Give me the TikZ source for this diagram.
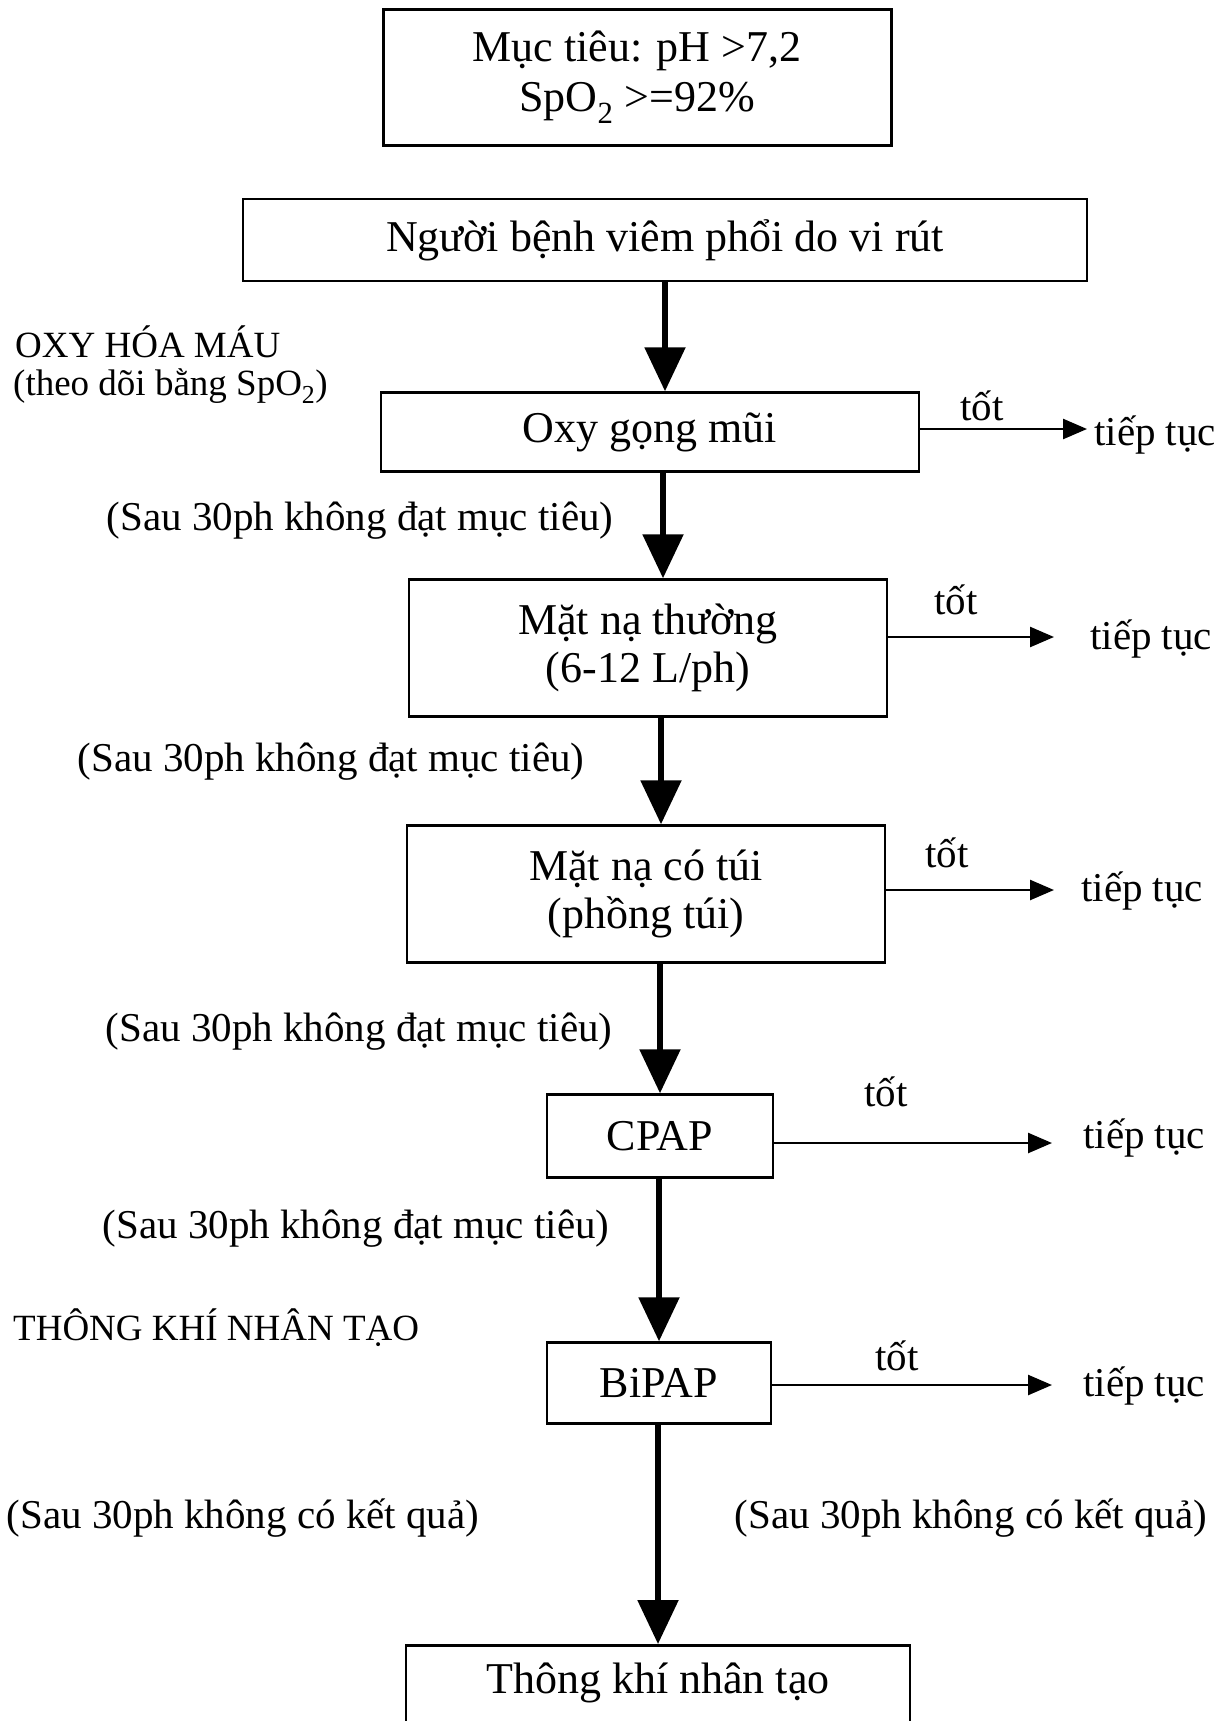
\documentclass[tikz,border=0pt]{standalone}
\usepackage{fontspec}
\setmainfont{Liberation Serif}
\usetikzlibrary{arrows.meta}
\begin{document}
\begin{tikzpicture}[x=1pt,y=-1pt,
  box/.style={draw,line width=2.5pt,inner sep=0pt,align=center,font=\fontsize{44}{48}\selectfont},
  lbl/.style={inner sep=0pt,font=\fontsize{41}{46}\selectfont},
  sec/.style={inner sep=0pt,anchor=west,font=\fontsize{37}{44}\selectfont},
  mainarrow/.style={line width=5.5pt,-{Triangle[length=44pt,width=40pt]}},
  sidearrow/.style={line width=2.5pt,-{Triangle[length=24pt,width=20pt]}},
]
\useasboundingbox (0,0) rectangle (1226,1721);
\clip (0,0) rectangle (1226,1721);

% boxes
\node[box,line width=3pt,minimum width=508pt,minimum height=136pt] (goal) at (637,77)
  {Mục tiêu: pH >7,2\\[2pt]SpO\textsubscript{2} >=92\%};
\node[box,minimum width=844pt,minimum height=82pt] (patient) at (665,240) {Người bệnh viêm phổi do vi rút};
\node[box,minimum width=538pt,minimum height=79pt] (oxy) at (650,432) {Oxy gọng mũi};
\node[box,minimum width=478pt,minimum height=137pt] (mask1) at (648,648) {Mặt nạ thường\\(6-12 L/ph)};
\node[box,minimum width=478pt,minimum height=137pt] (mask2) at (646,894) {Mặt nạ có túi\\(phồng túi)};
\node[box,minimum width=226pt,minimum height=83pt] (cpap) at (660,1136) {CPAP};
\node[box,minimum width=224pt,minimum height=81pt] (bipap) at (659,1383) {BiPAP};
\node[box,minimum width=504pt,text height=48pt,text depth=60pt,anchor=north] (vent) at (658,1644) {Thông khí nhân tạo};

% section labels
\node[sec] (s1) at (15,342) {OXY HÓA MÁU};
\node[sec] (s2) at (13,386) {(theo dõi bằng SpO\textsubscript{2})};
\node[sec] (s3) at (13,1328) {THÔNG KHÍ NHÂN TẠO};

% failure labels
\node[lbl] (f1) at (360,521) {(Sau 30ph không đạt mục tiêu)};
\node[lbl] (f2) at (331,762) {(Sau 30ph không đạt mục tiêu)};
\node[lbl] (f3) at (359,1032) {(Sau 30ph không đạt mục tiêu)};
\node[lbl] (f4) at (356,1229) {(Sau 30ph không đạt mục tiêu)};
\node[lbl] (r1) at (243,1518) {(Sau 30ph không có kết quả)};
\node[lbl] (r2) at (971,1518) {(Sau 30ph không có kết quả)};

% good labels
\node[lbl] (g1) at (982,406) {tốt};
\node[lbl] (g2) at (956,600) {tốt};
\node[lbl] (g3) at (947,853) {tốt};
\node[lbl] (g4) at (886,1092) {tốt};
\node[lbl] (g5) at (897,1356) {tốt};

% continue labels
\node[lbl,anchor=west] (c1) at (1094,435) {tiếp tục};
\node[lbl,anchor=west] (c2) at (1090,639) {tiếp tục};
\node[lbl,anchor=west] (c3) at (1081,891) {tiếp tục};
\node[lbl,anchor=west] (c4) at (1083,1138) {tiếp tục};
\node[lbl,anchor=west] (c5) at (1083,1386) {tiếp tục};

% arrow columns and ends
\coordinate (x1) at (665,0);
\coordinate (x2) at (663,0);
\coordinate (x3) at (661,0);
\coordinate (x4) at (660,0);
\coordinate (x5) at (659,0);
\coordinate (x6) at (658,0);
\coordinate (e1) at (1087,429);
\coordinate (e2) at (1054,637);
\coordinate (e3) at (1054,890);
\coordinate (e4) at (1052,1143);
\coordinate (e5) at (1052,1385);

% main arrows
\draw[mainarrow] (patient.south -| x1) -- (oxy.north -| x1);
\draw[mainarrow] (oxy.south -| x2) -- (mask1.north -| x2);
\draw[mainarrow] (mask1.south -| x3) -- (mask2.north -| x3);
\draw[mainarrow] (mask2.south -| x4) -- (cpap.north -| x4);
\draw[mainarrow] (cpap.south -| x5) -- (bipap.north -| x5);
\draw[mainarrow] (bipap.south -| x6) -- (vent.north -| x6);

% side arrows
\draw[sidearrow] (oxy.east |- e1) -- (e1);
\draw[sidearrow] (mask1.east |- e2) -- (e2);
\draw[sidearrow] (mask2.east |- e3) -- (e3);
\draw[sidearrow] (cpap.east |- e4) -- (e4);
\draw[sidearrow] (bipap.east |- e5) -- (e5);
\end{tikzpicture}
\end{document}
